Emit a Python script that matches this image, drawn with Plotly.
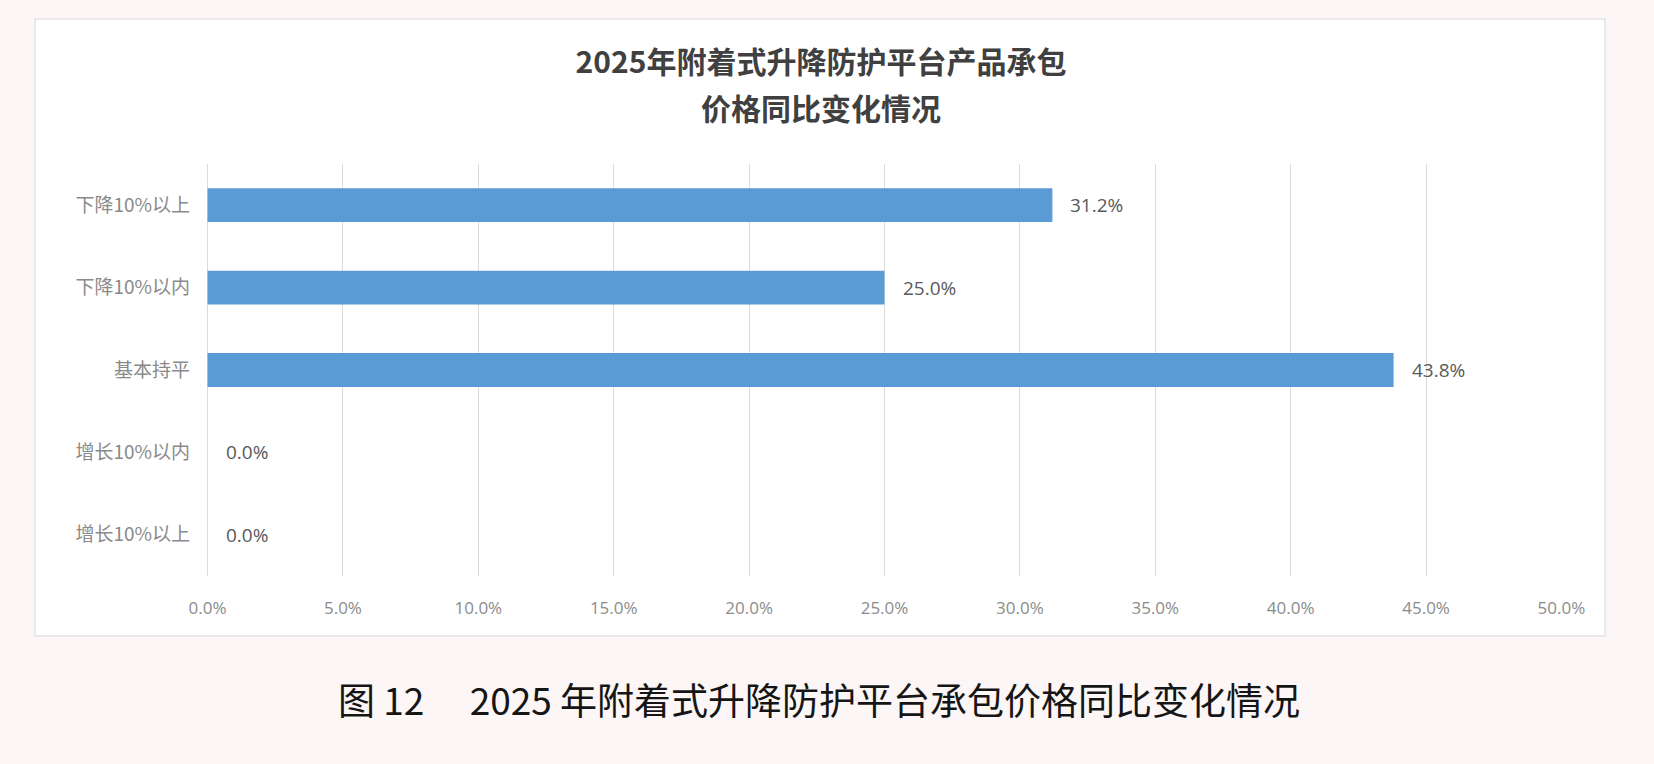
import plotly.graph_objects as go

categories = ["下降10%以上", "下降10%以内", "基本持平", "增长10%以内", "增长10%以上"]
values = [31.2, 25.0, 43.8, 0.0, 0.0]
x_ticks = [0, 5, 10, 15, 20, 25, 30, 35, 40, 45, 50]
x_tick_labels = [f"{v:.1f}%" for v in x_ticks]
title_line1 = "2025年附着式升降防护平台产品承包"
title_line2 = "价格同比变化情况"
caption_text = "图 12\u2003 2025 年附着式升降防护平台承包价格同比变化情况"

W, H = 1654, 764
L, R, T, B = 207, 92, 164, 188
pw, ph = W - L - R, H - T - B

def px_x(px):
    return (px - L) / pw

def px_y(py):
    return (H - B - py) / ph

CJK = "Noto Sans CJK SC"
title_font = dict(family=CJK, size=30, color="#404040", weight="bold")

fig = go.Figure()
fig.add_trace(go.Bar(
    y=categories, x=values, orientation="h",
    marker=dict(color="#5b9bd5", line=dict(width=0)),
    width=0.41, hoverinfo="skip",
))

annotations = []
for c, v in zip(categories, values):
    annotations.append(dict(
        x=v, y=c, xref="x", yref="y", text=f"{v:.1f}%", showarrow=False,
        xanchor="left", yanchor="middle", xshift=16,
        font=dict(family="Open Sans, " + CJK, size=19, color="#595959"),
    ))
annotations.append(dict(
    x=px_x(821), y=px_y(107), xref="paper", yref="paper", text=title_line2,
    showarrow=False, xanchor="center", yanchor="middle", font=title_font,
))
annotations.append(dict(
    x=px_x(819), y=px_y(699), xref="paper", yref="paper", text=caption_text,
    showarrow=False, xanchor="center", yanchor="middle",
    font=dict(family=CJK, size=37, color="#151515", weight="normal"),
))

fig.update_layout(
    width=W, height=H,
    margin=dict(l=L, r=R, t=T, b=B),
    paper_bgcolor="#fcf6f6",
    plot_bgcolor="#ffffff",
    showlegend=False,
    title=dict(
        text=title_line1, x=821 / W, y=1 - 62 / H, xref="container", yref="container",
        xanchor="center", yanchor="middle", font=title_font,
    ),
    xaxis=dict(
        range=[-0.02, 50.02], tickvals=x_ticks, ticktext=x_tick_labels,
        showgrid=True, gridcolor="#dcdcdc", gridwidth=1,
        zeroline=True, zerolinecolor="#dcdcdc", zerolinewidth=1,
        showline=False, ticks="",
        ticklabelstandoff=20,
        tickfont=dict(family="Open Sans", size=17, color="#8c8c8c"),
        fixedrange=True,
    ),
    yaxis=dict(
        categoryorder="array", categoryarray=categories, autorange="reversed",
        showgrid=False, zeroline=False, showline=False, ticks="",
        ticklabelstandoff=16,
        tickfont=dict(family=CJK, size=19, color="#8a8a8a"),
        fixedrange=True,
    ),
    shapes=[dict(
        type="rect", xref="paper", yref="paper", layer="below",
        x0=px_x(35), x1=px_x(1605), y0=px_y(636), y1=px_y(19),
        fillcolor="#ffffff", line=dict(color="#e3e3e3", width=1.5),
    )],
    annotations=annotations,
)

fig.write_html("out.html")
